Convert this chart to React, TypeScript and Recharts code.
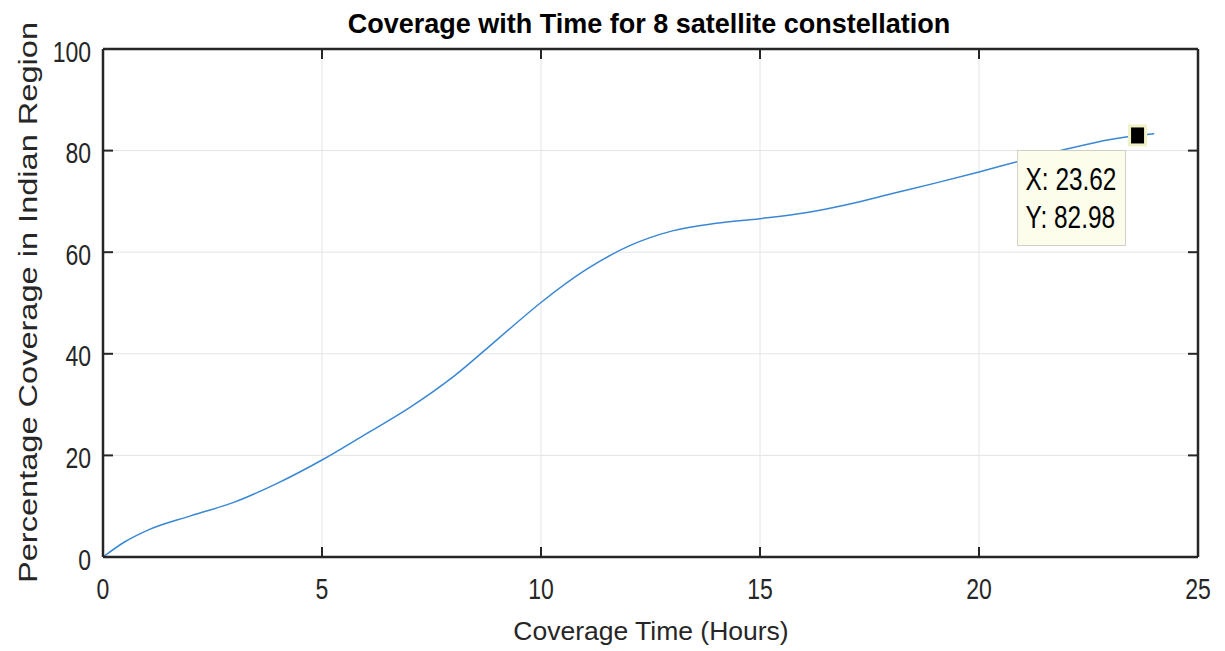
import React from 'react';
import {
  LineChart,
  Line,
  XAxis,
  YAxis,
  CartesianGrid,
  ReferenceDot,
  Label,
} from 'recharts';

const hours = [0, 0.5, 1, 2, 3, 4, 5, 6, 7, 8, 9, 10, 11, 12, 13, 14, 15, 16, 17, 18, 19, 20, 21, 22, 23, 23.62, 24];
const coverage = [0, 3.0, 5.2, 8.1, 10.8, 14.6, 19.1, 24.2, 29.4, 35.5, 42.8, 50.1, 56.4, 61.2, 64.2, 65.7, 66.6, 67.7, 69.4, 71.5, 73.6, 75.8, 78.1, 80.3, 82.2, 82.98, 83.3];
const xTicks = [0, 5, 10, 15, 20, 25];
const yTicks = [0, 20, 40, 60, 80, 100];
const tipX = 23.62;
const tipY = 82.98;

const data = hours.map((h, i) => ({ t: h, c: coverage[i] }));

const FONT = "'Liberation Sans', Arial, Helvetica, sans-serif";
const AXIS = '#262626';
const TICK_LEN = 10;

type TickProps = { x?: number; y?: number; payload?: { value: number } };

// bottom labels sit 42px under the axis; the tick mark points up into the plot
const XTick = ({ x = 0, y = 0, payload }: TickProps) => (
  <g>
    <line x1={x} y1={y - 42} x2={x} y2={y - 42 - TICK_LEN} stroke={AXIS} strokeWidth={2} />
    <g transform={`translate(${x},${y}) scale(1,1.25)`}>
      <text x={0} y={0} textAnchor="middle" fontFamily={FONT} fontSize={23} fill={AXIS}>
        {payload?.value}
      </text>
    </g>
  </g>
);

const YTick = ({ x = 0, y = 0, payload }: TickProps) => (
  <g>
    <line x1={x + 12} y1={y} x2={x + 12 + TICK_LEN} y2={y} stroke={AXIS} strokeWidth={2} />
    <g transform={`translate(${x},${y + 12.5}) scale(1,1.25)`}>
      <text x={0} y={0} textAnchor="end" fontFamily={FONT} fontSize={23} fill={AXIS}>
        {payload?.value}
      </text>
    </g>
  </g>
);

const TopTick = ({ x = 0, y = 0 }: TickProps) => (
  <line x1={x} y1={y} x2={x} y2={y + TICK_LEN} stroke={AXIS} strokeWidth={2} />
);

const RightTick = ({ x = 0, y = 0 }: TickProps) => (
  <line x1={x} y1={y} x2={x - TICK_LEN} y2={y} stroke={AXIS} strokeWidth={2} />
);

const TipMarker = ({ cx, cy }: { cx?: number; cy?: number }) => {
  const x = cx ?? 0;
  const y = cy ?? 0;
  return (
    <g>
      <rect x={x - 120} y={y + 15} width={108} height={95} fill="#fdfdec" stroke="#cfcfc4" strokeWidth={1} />
      <g transform={`translate(${x - 112},${y + 55}) scale(1,1.25)`}>
        <text x={0} y={0} fontFamily={FONT} fontSize={24.4} fill="#000">{`X: ${tipX}`}</text>
      </g>
      <g transform={`translate(${x - 112},${y + 93}) scale(1,1.25)`}>
        <text x={0} y={0} fontFamily={FONT} fontSize={24.4} fill="#000">{`Y: ${tipY}`}</text>
      </g>
      <rect x={x - 8} y={y - 9.5} width={16} height={19} fill="#000" stroke="#f1f1c6" strokeWidth={3} />
    </g>
  );
};

export default function App() {
  return (
    <div style={{ width: 1225, height: 651, background: '#fff', position: 'relative' }}>
      <style>{`body { margin: 0; }`}</style>
      <LineChart
        width={1225}
        height={651}
        data={data}
        margin={{ top: 48, right: 26, bottom: 0, left: 0 }}
      >
        <text
          x={649}
          y={33}
          textAnchor="middle"
          fontFamily={FONT}
          fontWeight="bold"
          fontSize={27}
          fill="#000"
        >
          Coverage with Time for 8 satellite constellation
        </text>
        <CartesianGrid stroke="#e4e4e4" strokeWidth={1} />
        <XAxis
          dataKey="t"
          type="number"
          domain={[0, 25]}
          ticks={xTicks}
          height={94}
          stroke={AXIS}
          strokeWidth={2.5}
          tickLine={false}
          tickSize={0}
          tickMargin={42}
          tick={<XTick />}
          interval={0}
        >
          <Label
            content={() => (
              <text x={651} y={640} textAnchor="middle" fontFamily={FONT} fontSize={26.5} fill={AXIS}>
                Coverage Time (Hours)
              </text>
            )}
          />
        </XAxis>
        <XAxis
          xAxisId="top"
          orientation="top"
          dataKey="t"
          type="number"
          domain={[0, 25]}
          ticks={xTicks}
          height={1}
          stroke={AXIS}
          strokeWidth={2.5}
          tickLine={false}
          tickSize={0}
          tickMargin={0}
          tick={<TopTick />}
          interval={0}
        />
        <YAxis
          type="number"
          domain={[0, 100]}
          ticks={yTicks}
          width={103}
          stroke={AXIS}
          strokeWidth={2.5}
          tickLine={false}
          tickSize={0}
          tickMargin={12}
          tick={<YTick />}
          interval={0}
        >
          <Label
            content={() => (
              <text
                transform="translate(36.7,302.5) rotate(-90)"
                x={0}
                y={0}
                textAnchor="middle"
                fontFamily={FONT}
                fontSize={25.5}
                fill={AXIS}
                textLength={561}
                lengthAdjust="spacingAndGlyphs"
              >
                Percentage Coverage in Indian Region
              </text>
            )}
          />
        </YAxis>
        <YAxis
          yAxisId="right"
          orientation="right"
          type="number"
          domain={[0, 100]}
          ticks={yTicks}
          width={1}
          stroke={AXIS}
          strokeWidth={2.5}
          tickLine={false}
          tickSize={0}
          tickMargin={0}
          tick={<RightTick />}
          interval={0}
        />
        <Line
          xAxisId="top"
          yAxisId="right"
          dataKey="c"
          stroke="none"
          dot={false}
          activeDot={false}
          isAnimationActive={false}
        />
        <Line
          type="monotone"
          dataKey="c"
          stroke="#3b87d4"
          strokeWidth={1.5}
          dot={false}
          activeDot={false}
          isAnimationActive={false}
        />
        <ReferenceDot x={tipX} y={tipY} ifOverflow="visible" shape={(p: { cx?: number; cy?: number }) => <TipMarker cx={p.cx} cy={p.cy} />} />
      </LineChart>
    </div>
  );
}
